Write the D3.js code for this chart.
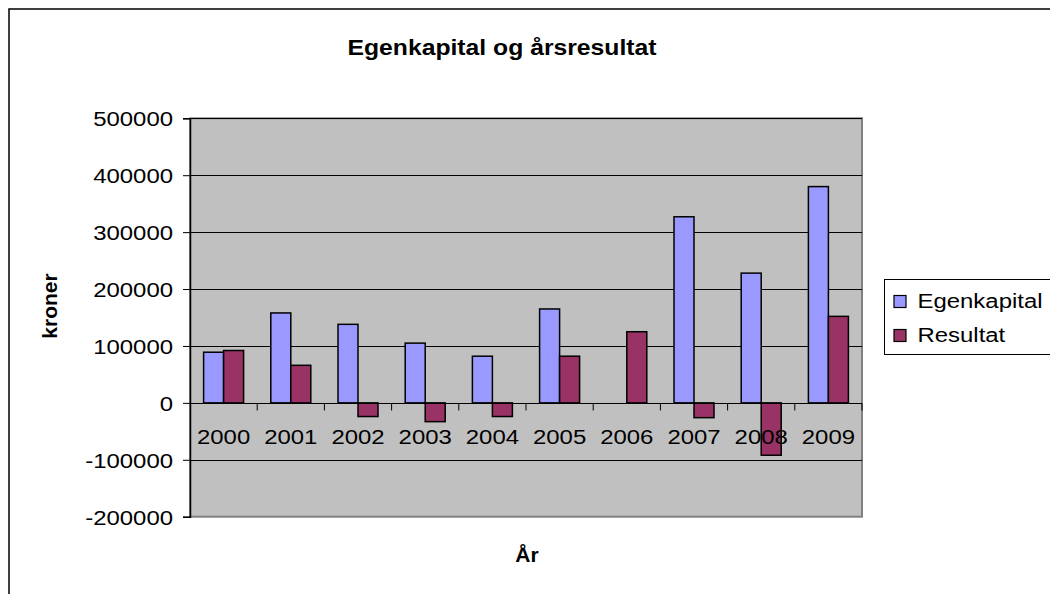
<!DOCTYPE html>
<html><head><meta charset="utf-8">
<script src="https://cdn.jsdelivr.net/npm/d3@7"></script>
<style>
html,body{margin:0;padding:0;background:#fff;}
text{font-family:"Liberation Sans",Arial,Helvetica,sans-serif;fill:#000;}
</style></head>
<body><svg id="c" width="1050" height="594"></svg>
<script>
const years = ["2000","2001","2002","2003","2004","2005","2006","2007","2008","2009"];
const egenkapital = [89000,158000,138000,105000,82000,165000,0,327000,228000,380000];
const resultat = [92000,66000,-24000,-33000,-24000,82000,125000,-26000,-92000,152000];
const seriesNames = ["Egenkapital","Resultat"];
const seriesColors = ["#9999FF","#993366"];
const yTicks = [-200000,-100000,0,100000,200000,300000,400000,500000];
const title = "Egenkapital og årsresultat";
const yTitle = "kroner";
const xTitle = "År";

const SX = 1.14; // horizontal stretch of the reference glyphs
const svg = d3.select("#c");
svg.append("rect").attr("x",9).attr("y",9).attr("width",1100).attr("height",700)
  .attr("fill","#fff").attr("stroke","#000").attr("stroke-width",1.5);

const L=190, R=862, T=118.3, B=516.7;
const x = d3.scaleBand().domain(years).range([L,R]).padding(0);
const x1 = d3.scaleBand().domain(seriesNames).range([0,x.bandwidth()]).paddingInner(0).paddingOuter(0.68);
const y = d3.scaleLinear().domain([-200000,500000]).range([B,T]);

function stext(parent, px, py, str, size, opts={}){
  const g = parent.append("g").attr("transform",`translate(${px},${py})`);
  const t = g.append("text").attr("transform",`scale(${opts.sx||SX},1)`)
    .attr("text-anchor",opts.anchor||"start").style("font-size",size+"px").text(str);
  if(opts.bold) t.style("font-weight","bold");
  return g;
}

svg.append("rect").attr("x",L).attr("y",T).attr("width",R-L).attr("height",B-T)
  .attr("fill","#C0C0C0").attr("stroke","#808080").attr("stroke-width",2);

svg.append("g").selectAll("line").data(yTicks.filter(d=>d!==-200000)).join("line")
  .attr("x1",L).attr("x2",R).attr("y1",d=>Math.round(y(d))+0.5).attr("y2",d=>Math.round(y(d))+0.5)
  .attr("stroke","#000").attr("stroke-width",1.2);

const data = years.map((yr,i)=>({yr, vals:[egenkapital[i],resultat[i]]}));
const grp = svg.append("g");
data.forEach(d=>{
  d.vals.forEach((v,j)=>{
    if(v===0) return;
    grp.append("rect")
      .attr("x",x(d.yr)+x1(seriesNames[j]))
      .attr("width",x1.bandwidth())
      .attr("y",y(Math.max(0,v)))
      .attr("height",Math.abs(y(v)-y(0)))
      .attr("fill",seriesColors[j]).attr("stroke","#000").attr("stroke-width",1.5);
  });
});

const y0 = Math.round(y(0))+0.5;
svg.append("line").attr("x1",L).attr("x2",R).attr("y1",y0).attr("y2",y0).attr("stroke","#000").attr("stroke-width",1.2);
const bounds = years.map(yr=>x(yr)).concat([R]);
svg.append("g").selectAll("line").data(bounds.slice(1)).join("line")
  .attr("x1",d=>d).attr("x2",d=>d).attr("y1",y0).attr("y2",y0+7).attr("stroke","#000").attr("stroke-width",1);
const xl = svg.append("g");
years.forEach(yr=>stext(xl, x(yr)+x.bandwidth()/2, 443.5, yr, 21, {anchor:"middle"}));

const yAxis = d3.axisLeft(y).tickValues(yTicks).tickSize(7).tickPadding(10).tickFormat(d=>String(d));
const ga = svg.append("g").attr("transform",`translate(${L},0)`).call(yAxis);
ga.attr("font-family",null).attr("font-size",null);
ga.select(".domain").attr("stroke","#000").attr("stroke-width",1.5);
ga.selectAll(".tick line").attr("stroke","#000");
ga.selectAll(".tick text").style("font-size","21px")
  .attr("x",-17/SX).attr("transform",`scale(${SX},1)`).attr("dy","0.36em");

stext(svg, 502, 55, title, 21.5, {anchor:"middle", bold:true, sx:1.15});
svg.append("g").attr("transform","translate(57,306) rotate(-90)")
  .append("text").attr("text-anchor","middle").attr("transform","scale(1.05,1)")
  .style("font-size","20px").style("font-weight","bold").text(yTitle);
stext(svg, 527, 562, xTitle, 20, {anchor:"middle", bold:true, sx:1.05});

const lg = svg.append("g");
lg.append("rect").attr("x",884.5).attr("y",279.5).attr("width",200).attr("height",75)
  .attr("fill","#fff").attr("stroke","#000").attr("stroke-width",1);
seriesNames.forEach((s,i)=>{
  const yy = 306 + i*34;
  lg.append("rect").attr("x",894).attr("y",yy-10.5).attr("width",12).attr("height",12)
    .attr("fill",seriesColors[i]).attr("stroke","#000").attr("stroke-width",1.2);
  stext(lg, 917.5, yy+1.5, s, 21);
});
</script></body></html>
